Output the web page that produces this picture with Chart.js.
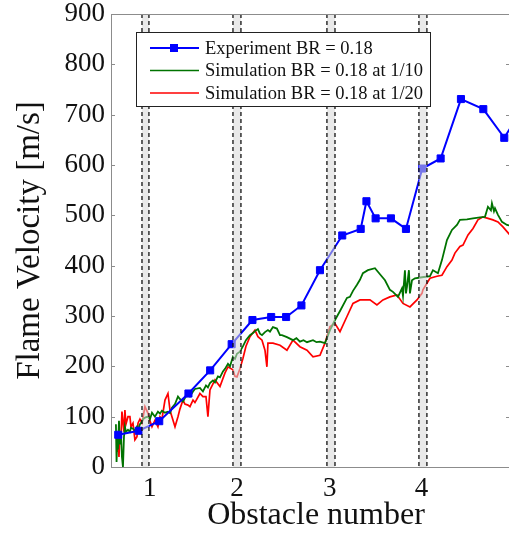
<!DOCTYPE html>
<html>
<head>
<meta charset="utf-8">
<script src="https://cdn.jsdelivr.net/npm/chart.js@4.4.1/dist/chart.umd.min.js"></script>
<style>
  html, body { margin: 0; padding: 0; background: #fff; overflow: hidden; }
  #wrap { width: 509px; height: 533px; }
</style>
</head>
<body>
<div id="wrap"><canvas id="chart" width="509" height="533"></canvas></div>
<script>
// Data (x in obstacle units, y in m/s)
const expX = [0.720, 0.941, 1.162, 1.477, 1.711, 1.943, 2.167, 2.369, 2.530, 2.695, 2.895, 3.135,
  3.334, 3.396, 3.495, 3.660, 3.822, 3.998, 4.196, 4.415, 4.656, 4.882, 5.100];
const expV = [64, 72, 91, 146, 192, 244, 292, 298, 298, 321, 391, 460,
  473, 528, 494, 494, 473, 593, 613, 731, 711, 654, 720];

const sim10X = [0.695, 0.702, 0.710, 0.717, 0.728, 0.739, 0.749, 0.760, 0.771, 0.782, 0.792, 0.803,
  0.825, 0.846, 0.857, 0.879, 0.900, 0.922, 0.933, 0.954, 0.976, 0.987, 1.008, 1.040, 1.062, 1.084,
  1.116, 1.148, 1.170, 1.191, 1.224, 1.256, 1.278, 1.299, 1.332, 1.364, 1.385, 1.418, 1.439, 1.472,
  1.493, 1.526, 1.547, 1.601, 1.633, 1.666, 1.687, 1.709, 1.741, 1.763, 1.795, 1.817, 1.849, 1.871,
  1.903, 1.925, 1.957, 1.979, 2.000, 2.032, 2.065, 2.097, 2.140, 2.173, 2.194, 2.226, 2.248, 2.270,
  2.302, 2.334, 2.356, 2.388, 2.431, 2.464, 2.485, 2.539, 2.604, 2.641, 2.679, 2.717, 2.755, 2.820,
  2.858, 2.895, 2.949, 3.003, 3.057, 3.111, 3.186, 3.218, 3.251, 3.294, 3.326, 3.358, 3.412, 3.488,
  3.542, 3.596, 3.649, 3.682, 3.736, 3.779, 3.790, 3.811, 3.822, 3.833, 3.854, 3.865, 3.887, 3.919,
  3.995, 4.081, 4.113, 4.167, 4.210, 4.264, 4.318, 4.372, 4.404, 4.480, 4.545, 4.620, 4.674, 4.706,
  4.738, 4.749, 4.771, 4.782, 4.814, 4.857, 4.911, 4.987];
const sim10V = [85, 10, 60, 35, 92, 45, 70, 20, 0, 60, 80, 70,
  74, 70, 78, 76, 72, 80, 73, 85, 90, 95, 98, 100, 95, 108,
  100, 110, 106, 112, 108, 110, 107, 118, 125, 140, 135, 130, 137, 145,
  140, 150, 155, 157, 150, 162, 158, 167, 172, 168, 180, 178, 190, 195,
  205, 200, 219, 215, 225, 229, 240, 252, 262, 266, 270, 274, 265, 262,
  268, 272, 269, 278, 275, 262, 262, 258, 252, 256, 249, 252, 248, 252,
  248, 249, 246, 272, 292, 310, 336, 338, 350, 362, 372, 385, 391, 395,
  383, 371, 352, 348, 338, 355, 340, 391, 345, 358, 391, 345, 371, 375,
  377, 379, 391, 385, 411, 451, 471, 481, 491, 492, 494, 496, 497, 517,
  510, 524, 508, 514, 501, 487, 481, 478];

const sim20X = [0.706, 0.717, 0.728, 0.739, 0.749, 0.760, 0.771, 0.782, 0.792, 0.803, 0.825, 0.846,
  0.857, 0.879, 0.900, 0.922, 0.933, 0.954, 0.976, 1.008, 1.040, 1.062, 1.084, 1.116, 1.148, 1.170,
  1.191, 1.224, 1.256, 1.278, 1.299, 1.332, 1.364, 1.385, 1.418, 1.439, 1.472, 1.493, 1.526, 1.547,
  1.601, 1.633, 1.666, 1.687, 1.709, 1.763, 1.817, 1.871, 1.903, 1.957, 1.979, 2.000, 2.032, 2.065,
  2.097, 2.140, 2.194, 2.226, 2.270, 2.302, 2.323, 2.334, 2.388, 2.464, 2.539, 2.604, 2.679, 2.755,
  2.820, 2.895, 2.949, 3.003, 3.057, 3.111, 3.186, 3.251, 3.326, 3.434, 3.509, 3.574, 3.649, 3.725,
  3.790, 3.865, 3.941, 3.995, 4.005, 4.081, 4.156, 4.210, 4.264, 4.318, 4.350, 4.404, 4.437, 4.491,
  4.545, 4.598, 4.652, 4.706, 4.760, 4.814, 4.868, 4.943];
const sim20V = [30, 54, 20, 70, 50, 110, 90, 70, 113, 85, 100, 100,
  80, 87, 54, 60, 87, 95, 87, 120, 107, 92, 80, 93, 80, 100,
  95, 133, 146, 113, 100, 80, 100, 115, 133, 125, 123, 120, 133, 128,
  146, 140, 140, 100, 153, 173, 160, 187, 199, 193, 180, 179, 195, 216,
  240, 259, 272, 259, 252, 232, 199, 246, 246, 242, 232, 252, 239, 232,
  219, 222, 246, 279, 285, 269, 299, 325, 332, 332, 322, 332, 338, 342,
  325, 318, 332, 345, 352, 375, 379, 381, 398, 411, 425, 438, 441, 461,
  474, 491, 497, 494, 491, 487, 477, 461];

// Obstacle bands (dashed edges) and axis ticks
const obstacleLeft = [0.976, 1.957, 2.970, 3.962];
const obstacleRight = [1.051, 2.043, 3.057, 4.048];
const xTickValues = [1.06, 2.0, 3.0, 3.99];
const xTickLabels = ['1', '2', '3', '4'];
const yTicks = [0, 100, 200, 300, 400, 500, 600, 700, 800, 900];

const labels = ['Experiment BR = 0.18', 'Simulation BR = 0.18 at 1/10', 'Simulation BR = 0.18 at 1/20'];
const colors = ['#0000ff', 'rgb(0,115,0)', '#ff0000'];
const xTitle = 'Obstacle number';
const yTitle = 'Flame Velocity [m/s]';

const SERIF = "'Liberation Serif', 'DejaVu Serif', serif";
const AXIS_GRAY = '#8c8c8c';

function toPoints(xs, ys) {
  return xs.map((x, i) => ({ x: x, y: ys[i] }));
}

// Bands + dashed lines drawn on top of the data, frame ticks, legend, x title
const overlayPlugin = {
  id: 'overlay',
  afterDatasetsDraw(chart) {
    const ctx = chart.ctx;
    const xs = chart.scales.x;
    const ys = chart.scales.y;
    const { top, bottom, left, right } = chart.chartArea;
    ctx.save();
    obstacleLeft.forEach((l, i) => {
      const x1 = xs.getPixelForValue(l);
      const x2 = xs.getPixelForValue(obstacleRight[i]);
      ctx.fillStyle = 'rgba(215,215,215,0.55)';
      ctx.fillRect(x1, top, x2 - x1, bottom - top);
      ctx.strokeStyle = '#111';
      ctx.lineWidth = 1.3;
      ctx.setLineDash([4, 3]);
      [x1, x2].forEach(x => {
        ctx.beginPath();
        ctx.moveTo(x, top);
        ctx.lineTo(x, bottom);
        ctx.stroke();
      });
    });
    ctx.setLineDash([]);

    // frame: top border and inward ticks
    ctx.strokeStyle = AXIS_GRAY;
    ctx.lineWidth = 1;
    ctx.beginPath();
    ctx.moveTo(left, top + 0.5);
    ctx.lineTo(right, top + 0.5);
    yTicks.forEach(v => {
      const y = Math.round(ys.getPixelForValue(v)) + 0.5;
      ctx.moveTo(left, y);
      ctx.lineTo(left + 4, y);
      ctx.moveTo(right + 2, y);
      ctx.lineTo(right - 3, y);
    });
    ctx.stroke();

    // legend
    const bx = 136, by = 32, bw = 294, bh = 74;
    ctx.fillStyle = '#fff';
    ctx.fillRect(bx, by, bw, bh);
    ctx.strokeStyle = '#222';
    ctx.lineWidth = 1;
    ctx.strokeRect(bx + 0.5, by + 0.5, bw, bh);
    ctx.font = '18.5px ' + SERIF;
    ctx.textBaseline = 'middle';
    labels.forEach((t, i) => {
      const y = 48 + i * 22.5;
      ctx.strokeStyle = colors[i];
      ctx.lineWidth = i === 0 ? 2 : 1.7;
      ctx.beginPath();
      ctx.moveTo(150, y);
      ctx.lineTo(199, y);
      ctx.stroke();
      if (i === 0) {
        ctx.fillStyle = colors[0];
        ctx.fillRect(170, y - 4, 8, 8);
      }
      ctx.fillStyle = '#111';
      ctx.fillText(t, 205, y + 1);
    });

    // x axis title (centred a little right of the visible area, as in the figure)
    ctx.font = '32px ' + SERIF;
    ctx.textAlign = 'center';
    ctx.textBaseline = 'middle';
    ctx.fillStyle = '#111';
    ctx.fillText(xTitle, 316, 516);
    ctx.restore();
  }
};

new Chart(document.getElementById('chart'), {
  type: 'line',
  data: {
    datasets: [
      {
        label: labels[0],
        data: toPoints(expX, expV),
        borderColor: colors[0],
        backgroundColor: colors[0],
        borderWidth: 2,
        pointStyle: 'rect',
        pointRadius: 5,
        pointBorderWidth: 1,
        tension: 0
      },
      {
        label: labels[1],
        data: toPoints(sim10X, sim10V),
        borderColor: colors[1],
        borderWidth: 1.8,
        pointRadius: 0,
        tension: 0
      },
      {
        label: labels[2],
        data: toPoints(sim20X, sim20V),
        borderColor: colors[2],
        borderWidth: 1.7,
        pointRadius: 0,
        tension: 0
      }
    ]
  },
  options: {
    responsive: false,
    animation: false,
    layout: { autoPadding: false, padding: { top: 14, right: 0, left: 0, bottom: 0 } },
    plugins: { legend: { display: false }, tooltip: { enabled: false } },
    scales: {
      x: {
        type: 'linear',
        min: 0.642,
        max: 4.933,
        afterFit(scale) {
          scale.height = 66;
          scale.paddingLeft = 0;
          scale.paddingRight = 0;
        },
        afterBuildTicks(scale) {
          scale.ticks = xTickValues.map(v => ({ value: v }));
        },
        grid: { display: false, drawTicks: false },
        border: { display: true, color: AXIS_GRAY, width: 1 },
        ticks: {
          padding: 8,
          color: '#111',
          font: { family: SERIF, size: 27, lineHeight: 1 },
          callback: (v, i) => xTickLabels[i]
        },
        title: { display: false }
      },
      y: {
        min: 0,
        max: 900,
        afterFit(scale) {
          scale.width = 111;
          scale.paddingTop = 0;
          scale.paddingBottom = 0;
        },
        afterBuildTicks(scale) {
          scale.ticks = yTicks.map(v => ({ value: v }));
        },
        grid: { display: false, drawTicks: false },
        border: { display: true, color: AXIS_GRAY, width: 1 },
        ticks: {
          padding: 6,
          color: '#111',
          font: { family: SERIF, size: 27, lineHeight: 1 }
        },
        title: {
          display: true,
          text: yTitle,
          color: '#111',
          font: { family: SERIF, size: 33, lineHeight: 1.2 },
          padding: { top: 11, bottom: 0 }
        }
      }
    }
  },
  plugins: [overlayPlugin]
});
</script>
</body>
</html>
